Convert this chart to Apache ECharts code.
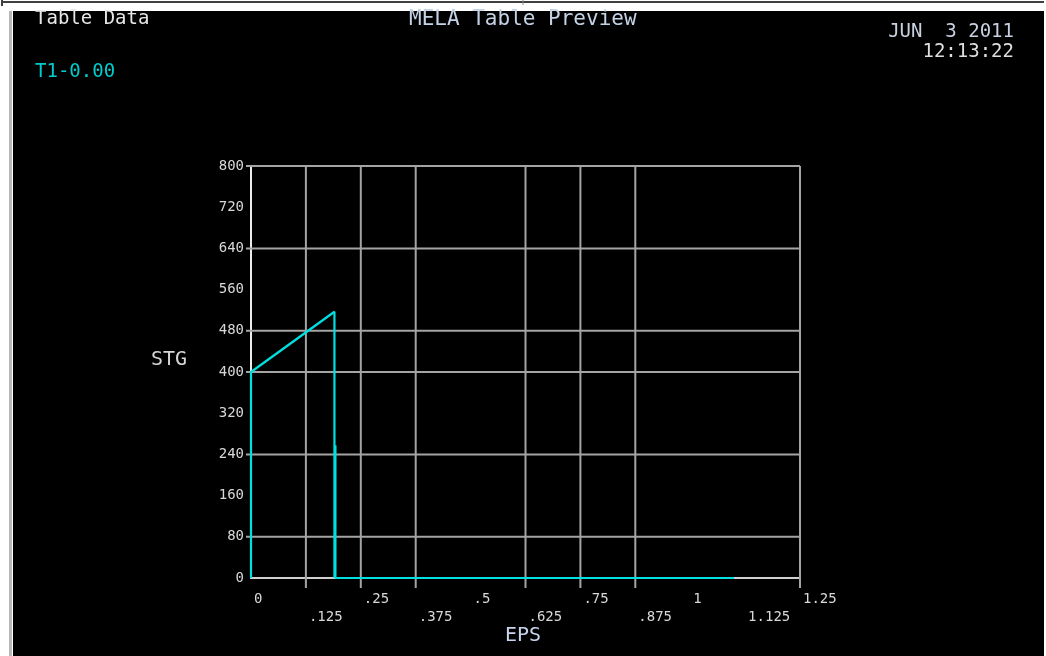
<!DOCTYPE html>
<html>
<head>
<meta charset="utf-8">
<title>MELA Table Preview</title>
<script src="https://cdn.jsdelivr.net/npm/echarts@6/dist/echarts.min.js"></script>
<style>
  html, body { margin: 0; padding: 0; background: #ffffff; }
  #chart { width: 1046px; height: 656px; }
</style>
</head>
<body>
<div id="chart"></div>
<script>
// Stress–strain table curve (EPS vs STG)
const epsValues = [0, 0, 0.19, 0.19, 0.1922, 0.1922, 0.1922, 1.1];
const stgValues = [0, 400, 517, 0, 0, 258, 0, 0];

// Axis tick labels
const xTickLabels = ['0', '.125', '.25', '.375', '.5', '.625', '.75', '.875', '1', '1.125', '1.25'];
const yTickLabels = ['0', '80', '160', '240', '320', '400', '480', '560', '640', '720', '800'];

// Grid lines that are drawn (with their tick marks)
const xGridValues = [0.125, 0.25, 0.375, 0.625, 0.75, 0.875, 1.25];
const yGridValues = [80, 240, 400, 480, 640, 800];

const MONO = '"DejaVu Sans Mono", "Liberation Mono", monospace';
const GRID_COLOR = '#a4a4a4';
const CURVE_COLOR = '#00e0e0';

const chart = echarts.init(document.getElementById('chart'), null, { renderer: 'canvas' });

const curve = epsValues.map((x, i) => [x, stgValues[i]]);

chart.setOption({
  backgroundColor: '#ffffff',
  animation: false,
  graphic: [
    // window frame
    { type: 'rect', shape: { x: 13, y: 11, width: 1031, height: 645 }, style: { fill: '#000000' }, z: -10 },
    { type: 'line', shape: { x1: 3, y1: 2, x2: 1044, y2: 2 }, style: { stroke: '#000000', lineWidth: 1.5 }, z: -10 },
    { type: 'line', shape: { x1: 2, y1: 0, x2: 2, y2: 6 }, style: { stroke: '#000000', lineWidth: 1.5 }, z: -10 },
    { type: 'line', shape: { x1: 523, y1: 0, x2: 523, y2: 5 }, style: { stroke: '#888888', lineWidth: 1 }, z: -10 },
    { type: 'line', shape: { x1: 10.5, y1: 11, x2: 10.5, y2: 656 }, style: { stroke: '#b8b8b8', lineWidth: 3 }, z: -10 },
    // header texts
    { type: 'text', left: 35, top: 10, style: { text: 'Table Data', font: '19px ' + MONO, fill: '#e6e6e6' } },
    { type: 'text', left: 35, top: 63, style: { text: 'T1-0.00', font: '19px ' + MONO, fill: '#00cccc' } },
    { type: 'text', left: 409, top: 9, style: { text: 'MELA Table Preview', font: '21px ' + MONO, fill: '#c4d2e6' } },
    { type: 'text', right: 32, top: 23, style: { text: 'JUN  3 2011', font: '19px ' + MONO, fill: '#c8d0e0', align: 'right' } },
    { type: 'text', right: 32, top: 43, style: { text: '12:13:22', font: '19px ' + MONO, fill: '#dedede', align: 'right' } },
    // axis names
    { type: 'text', left: 151, top: 350, style: { text: 'STG', font: '20px ' + MONO, fill: '#d6d6d6' } },
    { type: 'text', left: 505, top: 626, style: { text: 'EPS', font: '20px ' + MONO, fill: '#c8d4ec' } }
  ],
  grid: { left: 251, top: 166, right: 246, bottom: 78, containLabel: false },
  xAxis: {
    type: 'value',
    min: 0, max: 1.25, interval: 0.125,
    axisLine: { show: true, lineStyle: { color: '#d0d0d0', width: 2 } },
    axisTick: { show: false },
    splitLine: { show: false },
    axisLabel: {
      show: true,
      margin: 12,
      align: 'left',
      verticalAlign: 'top',
      lineHeight: 18,
      padding: [0, 0, 0, 3],
      fontFamily: MONO,
      fontSize: 14,
      color: '#d8d8d8',
      showMinLabel: true,
      showMaxLabel: true,
      formatter: function (value) {
        const i = Math.round(value / 0.125);
        const label = xTickLabels[i];
        return (i % 2 === 0) ? label : '\n' + label;
      }
    }
  },
  yAxis: {
    type: 'value',
    min: 0, max: 800, interval: 80,
    axisLine: { show: true, lineStyle: { color: '#ececec', width: 2 } },
    axisTick: { show: false },
    splitLine: { show: false },
    axisLabel: {
      show: true,
      margin: 7,
      fontFamily: MONO,
      fontSize: 14,
      color: '#d8d8d8',
      showMinLabel: true,
      showMaxLabel: true,
      formatter: function (value) {
        return yTickLabels[Math.round(value / 80)];
      }
    }
  },
  series: [
    {
      // vertical grid lines with their tick marks below the axis
      type: 'custom',
      silent: true,
      clip: false,
      z: 1,
      data: xGridValues.map(v => [v]),
      renderItem: function (params, api) {
        const v = api.value(0);
        const top = api.coord([v, 800]);
        const bottom = api.coord([v, 0]);
        return {
          type: 'line',
          shape: { x1: top[0], y1: top[1], x2: bottom[0], y2: bottom[1] + 10 },
          style: { stroke: GRID_COLOR, lineWidth: 2 }
        };
      }
    },
    {
      // horizontal grid lines with their tick marks left of the axis
      type: 'custom',
      silent: true,
      clip: false,
      z: 1,
      data: yGridValues.map(v => [0, v]),
      renderItem: function (params, api) {
        const v = api.value(1);
        const left = api.coord([0, v]);
        const right = api.coord([1.25, v]);
        return {
          type: 'line',
          shape: { x1: left[0] - 5, y1: left[1], x2: right[0], y2: right[1] },
          style: { stroke: GRID_COLOR, lineWidth: 2 }
        };
      }
    },
    {
      name: 'STG',
      type: 'line',
      data: curve,
      showSymbol: false,
      symbol: 'none',
      clip: false,
      z: 5,
      lineStyle: { color: CURVE_COLOR, width: 2.2 }
    }
  ]
});
</script>
</body>
</html>
